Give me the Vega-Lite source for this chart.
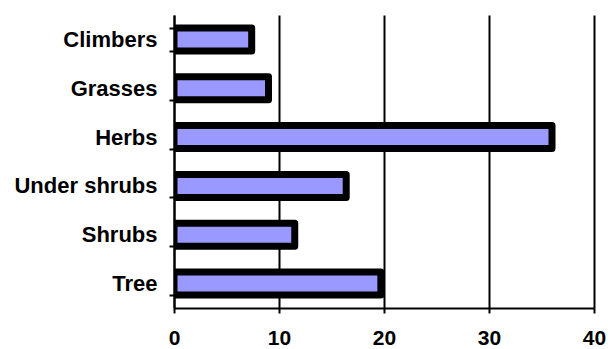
{
  "$schema": "https://vega.github.io/schema/vega-lite/v6.json",
  "width": 420,
  "height": 293,
  "autosize": "none",
  "padding": {"left": 174, "top": 15, "right": 14, "bottom": 41},
  "background": "white",
  "config": {"view": {"stroke": null}},
  "data": {
    "values": [
      {"type": "Climbers", "value": 7.4},
      {"type": "Grasses", "value": 9.0},
      {"type": "Herbs", "value": 36.0},
      {"type": "Under shrubs", "value": 16.4},
      {"type": "Shrubs", "value": 11.5},
      {"type": "Tree", "value": 19.7}
    ]
  },
  "mark": {
    "type": "bar",
    "fill": "#9999FF",
    "stroke": "black",
    "strokeWidth": 7,
    "strokeJoin": "round",
    "clip": true
  },
  "encoding": {
    "y": {
      "field": "type",
      "type": "nominal",
      "sort": ["Climbers", "Grasses", "Herbs", "Under shrubs", "Shrubs", "Tree"],
      "scale": {"paddingInner": 0.53, "paddingOuter": 0.265},
      "axis": {
        "title": null,
        "tickBand": "extent",
        "grid": false,
        "domainColor": "black",
        "domainWidth": 2,
        "tickColor": "black",
        "tickWidth": 2,
        "tickSize": 5,
        "labelPadding": 12,
        "labelFont": "Liberation Sans",
        "labelFontSize": 22,
        "labelFontWeight": "bold",
        "labelColor": "black"
      }
    },
    "x": {
      "field": "value",
      "type": "quantitative",
      "scale": {"domain": [0, 40], "nice": false},
      "axis": {
        "title": null,
        "values": [0, 10, 20, 30, 40],
        "grid": true,
        "gridColor": "black",
        "gridWidth": 2,
        "gridOpacity": 1,
        "domainColor": "black",
        "domainWidth": 2,
        "tickColor": "black",
        "tickWidth": 2,
        "tickSize": 5,
        "labelPadding": 14,
        "labelFont": "Liberation Sans",
        "labelFontSize": 21,
        "labelFontWeight": "bold",
        "labelColor": "black",
        "labelFlush": false,
        "labelOverlap": false
      }
    }
  }
}
